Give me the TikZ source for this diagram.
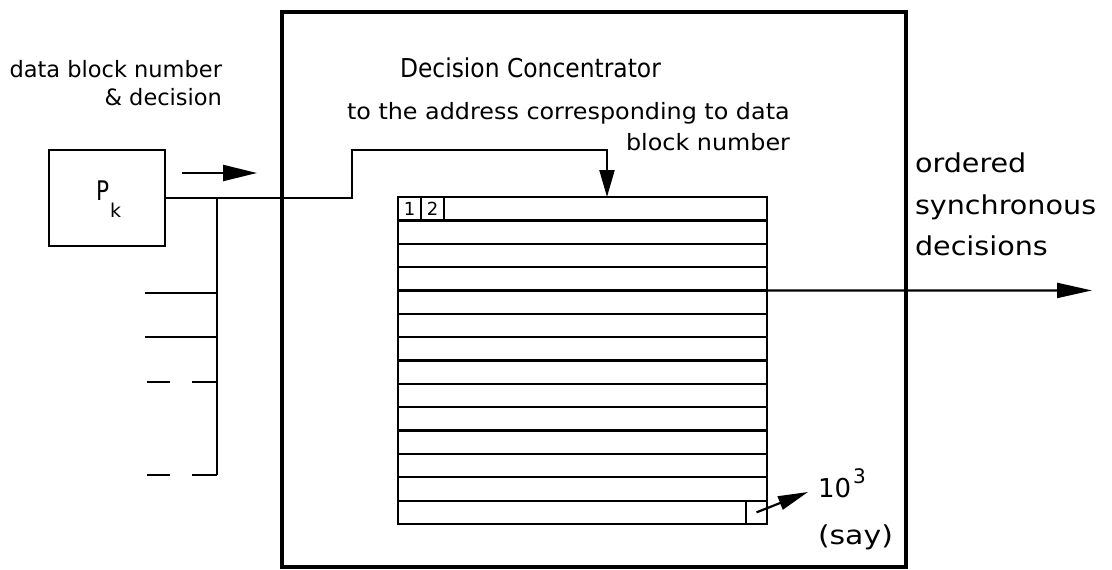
\documentclass[tikz,border=0pt]{standalone}
\usepackage{fontspec}
\setmainfont{DejaVu Sans}
\usetikzlibrary{arrows.meta}
\newcommand{\fs}[1]{\fontsize{#1}{#1}\selectfont}
\begin{document}
\begin{tikzpicture}[x=1pt,y=-1pt,
  conn/.style={line width=2.2pt},
  tbl/.style={draw, line width=2.3pt, inner sep=0pt, outer sep=0pt},
  lbl/.style={inner sep=0pt, outer sep=0pt},
  bigtip/.style={-{Triangle[length=34pt,width=16pt]}},
  downtip/.style={-{Triangle[length=27pt,width=15pt]}},
  outtip/.style={-{Triangle[length=35pt,width=15pt]}},
  smalltip/.style={-{Triangle[length=30pt,width=14pt]}}
]
\useasboundingbox (0,0) rectangle (1112,570);

% outer box
\node[draw, line width=4.5pt, minimum width=624pt, minimum height=555pt, inner sep=0pt] (outer) at (594,289.5) {};

% P_k box
\node[draw, line width=2.3pt, minimum width=116pt, minimum height=96pt, inner sep=0pt] (pk) at (107,198) {};
\node[lbl, anchor=base west, font=\fs{27}] (P) at (96,200) {\scalebox{0.8}[1]{P}};
\node[lbl, anchor=base west, font=\fs{19}] (k) at (110,217) {k};

% table rows
\foreach \i in {0,...,13}
  \node[tbl, minimum width=369pt, minimum height=23.36pt] (row\i) at (582.5,{208.68+23.36*\i}) {};
\node[tbl, minimum width=23pt, minimum height=23.36pt, anchor=north west, font=\fs{18}] (c1) at (row0.north west) {1};
\node[tbl, minimum width=23pt, minimum height=23.36pt, anchor=north west, font=\fs{18}] (c2) at (c1.north east) {2};
\node[tbl, minimum width=21pt, minimum height=23.36pt, anchor=north east] (last) at (row13.north east) {};

% input line with step to table
\coordinate (s1) at (352,198);
\coordinate (s2) at (352,150);
\coordinate (s3) at (607,150);
\draw[conn, downtip] (pk.east) -- (s1) -- (s2) -- (s3) -- (s3 |- row0.north);

% small arrow above input line
\coordinate (a1) at (182,173);
\coordinate (a2) at (257,173);
\draw[conn, bigtip] (a1) -- (a2);

% bus and stubs
\coordinate (bt) at (217,198);
\coordinate (bb) at (217,475);
\draw[conn] (bt) -- (bb);
\coordinate (st1) at (145,293);
\coordinate (st2) at (145,337);
\coordinate (st3) at (147,382);
\coordinate (st4) at (147,475);
\draw[conn] (st1) -- (st1 -| bt);
\draw[conn] (st2) -- (st2 -| bt);
\draw[conn, dash pattern=on 25pt off 22pt] (st3 -| bt) -- (st3);
\draw[conn, dash pattern=on 25pt off 22pt] (bb) -- (st4);

% output arrow
\coordinate (outEnd) at (1092,290.44);
\draw[conn, outtip] (row3.south east) -- (outEnd);

% 10^3 arrow
\coordinate (tenTip) at (808,492);
\draw[conn, smalltip] (last.center) -- (tenTip);

% labels
\node[lbl, anchor=base east, font=\fs{22.5}] (t1) at (222,77) {data block number};
\node[lbl, anchor=base east, font=\fs{22.5}] (t2) at (222,105) {\& decision};
\node[lbl, anchor=base west, font=\fs{26}] (title) at (400,77) {\scalebox{0.9}[1]{Decision Concentrator}};
\node[lbl, anchor=base west, font=\fs{22.5}] (addr1) at (347,119) {\scalebox{1.06}[1]{to the address corresponding to data}};
\node[lbl, anchor=base east, font=\fs{22.5}] (addr2) at (790,150) {\scalebox{1.06}[1]{block number}};
\node[lbl, anchor=base west, font=\fs{26}] (o1) at (915,172) {\scalebox{1.1}[1]{ordered}};
\node[lbl, anchor=base west, font=\fs{26}] (o2) at (915,214) {\scalebox{1.1}[1]{synchronous}};
\node[lbl, anchor=base west, font=\fs{26}] (o3) at (915,255) {\scalebox{1.1}[1]{decisions}};
\node[lbl, anchor=base west, font=\fs{26}] (ten) at (818,497) {10};
\node[lbl, anchor=base west, font=\fs{20}] (three) at (853,483) {3};
\node[lbl, anchor=base west, font=\fs{26}] (say) at (818,544) {\scalebox{1.15}[1]{(say)}};
\end{tikzpicture}
\end{document}
